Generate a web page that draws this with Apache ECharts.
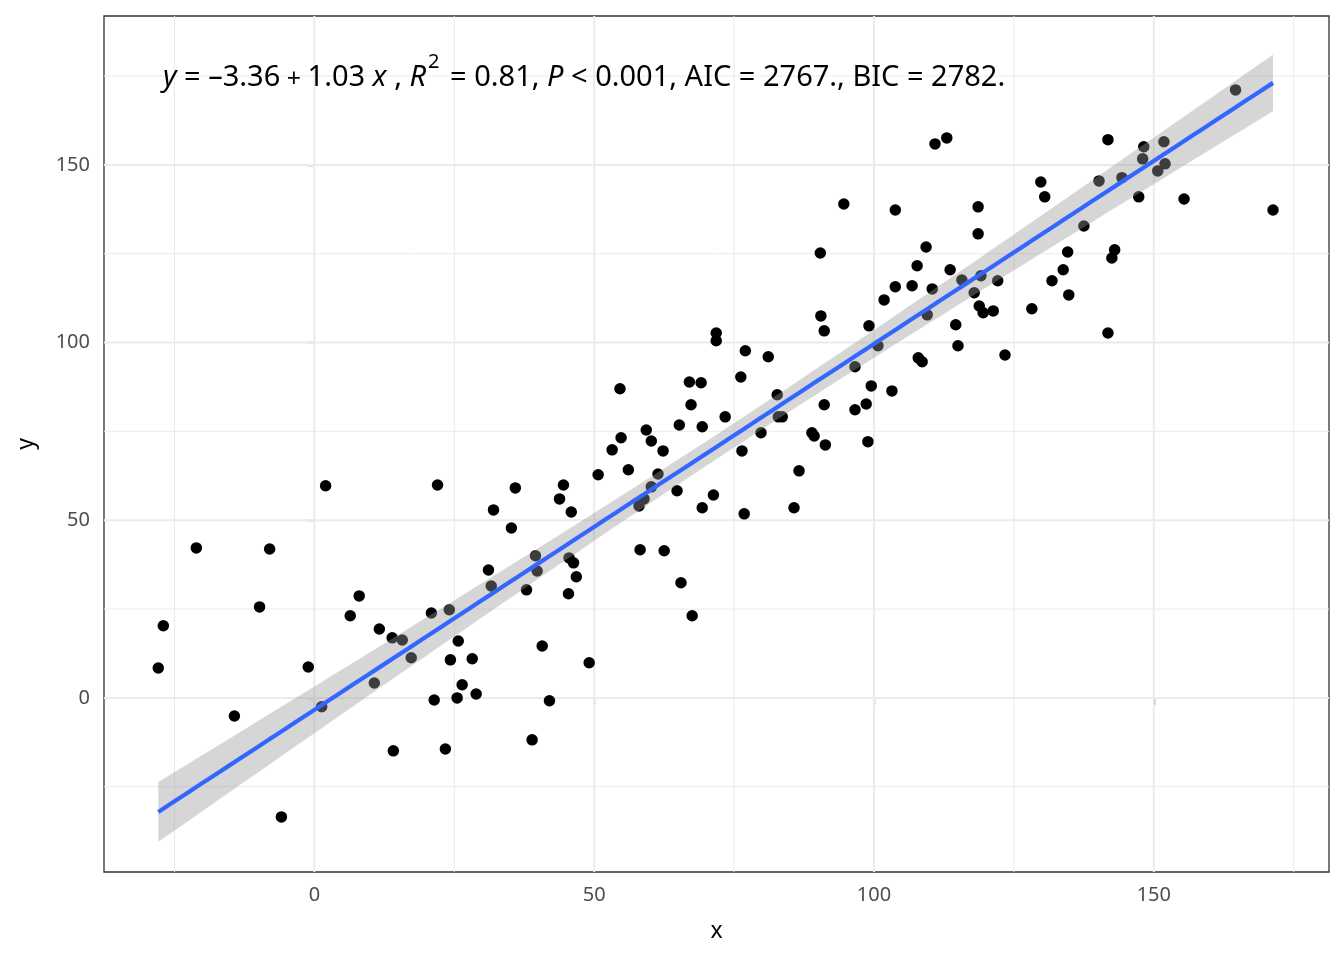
<!DOCTYPE html>
<html>
<head>
<meta charset="utf-8">
<script src="https://cdn.jsdelivr.net/npm/echarts@6/dist/echarts.min.js"></script>
<style>
  html, body { margin: 0; padding: 0; background: #fff; }
  #chart { width: 1344px; height: 960px; }
</style>
</head>
<body>
<div id="chart"></div>
<script>
// scatter data
const xValues = [-27.9,-27.0,-21.1,-14.3,-9.8,-8.0,-5.9,-1.1,1.3,2.0,6.4,8.0,10.7,11.6,13.9,14.1,15.7,17.3,20.9,21.4,
  22.0,23.4,24.1,24.3,25.7,25.5,26.4,28.2,28.9,31.1,31.6,32.0,35.2,35.9,37.9,38.9,39.5,39.8,40.7,42.0,
  43.8,44.5,45.4,45.5,45.9,46.3,46.8,49.1,50.7,53.2,54.6,54.8,56.1,58.0,58.2,58.9,59.3,60.2,60.2,61.4,
  62.3,62.5,64.8,65.2,65.5,67.0,67.3,67.5,69.1,69.3,69.3,71.3,71.8,71.8,73.4,76.2,76.4,76.8,77.0,79.8,
  81.1,82.7,82.9,83.6,85.7,86.6,88.9,89.3,90.4,90.5,91.1,91.1,91.3,94.6,96.6,96.6,98.6,98.9,99.1,99.5,
  100.7,101.8,103.2,103.8,103.8,106.8,107.7,107.9,108.6,109.3,109.5,110.4,110.9,113.0,113.6,114.6,115.0,115.7,117.9,118.6,
  118.6,118.8,119.1,119.5,121.3,122.1,123.4,128.2,129.8,130.5,131.8,133.8,134.6,134.8,137.5,140.2,141.8,141.8,142.5,143.0,
  144.3,147.3,148.0,148.2,150.7,151.8,152.0,155.4,164.6,171.3];
const yValues = [8.4,20.3,42.2,-5.1,25.6,41.9,-33.5,8.7,-2.5,59.7,23.1,28.7,4.2,19.4,16.9,-14.9,16.3,11.3,23.9,-0.6,
  59.9,-14.4,24.8,10.7,16.0,0,3.7,11.0,1.1,36.0,31.5,52.9,47.8,59.1,30.4,-11.8,40.0,35.7,14.6,-0.8,
  56.0,59.9,29.3,39.4,52.3,38.0,34.1,9.9,62.8,69.8,87.0,73.2,64.2,54.0,41.7,56.0,75.4,72.3,59.4,63.0,
  69.5,41.4,58.3,76.8,32.4,88.9,82.5,23.1,88.7,76.3,53.5,57.1,102.7,100.5,79.1,90.3,69.5,51.8,97.7,74.6,
  96.0,85.3,79.1,79.1,53.5,63.9,74.6,73.7,125.2,107.5,103.3,82.5,71.2,139.0,93.2,81.1,82.7,72.1,104.7,87.8,
  99.1,112.0,86.4,137.3,115.7,116.0,121.6,95.7,94.6,126.9,107.8,115.1,155.9,157.6,120.5,105.0,99.1,117.6,114.0,138.2,
  130.6,110.3,118.8,108.4,108.9,117.4,96.5,109.5,145.2,141.0,117.4,120.5,125.5,113.4,132.8,145.5,157.1,102.7,123.8,126.1,
  146.4,141.0,151.7,155.1,148.3,156.5,150.3,140.4,171.1,137.3];

// coefficients printed in the label
const fitIntercept = -3.36;
const fitSlope = 1.03;

const xTicks = [0, 50, 100, 150];
const yTicks = [0, 50, 100, 150];
const xMinor = [-25, 25, 75, 125, 175];
const yMinor = [-25, 25, 75, 125, 175];

const X_MIN = -37.6, X_MAX = 181.3;
const Y_MIN = -49, Y_MAX = 191.9;

// 95% confidence band of the mean around the printed line
const n = xValues.length;
const xBar = xValues.reduce((a, b) => a + b, 0) / n;
let sxx = 0, sse = 0;
for (let i = 0; i < n; i++) {
    sxx += (xValues[i] - xBar) ** 2;
    sse += (yValues[i] - fitIntercept - fitSlope * xValues[i]) ** 2;
}
const sigma = Math.sqrt(sse / (n - 2));
const tCrit = 1.976;

const xLo = Math.min(...xValues);
const xHi = Math.max(...xValues);
const fitLine = [];
const bandUpper = [];
const bandLower = [];
for (let k = 0; k <= 80; k++) {
    const x = xLo + (xHi - xLo) * k / 80;
    const yHat = fitIntercept + fitSlope * x;
    const se = sigma * Math.sqrt(1 / n + (x - xBar) ** 2 / sxx);
    fitLine.push([x, yHat]);
    bandUpper.push([x, yHat + tCrit * se]);
    bandLower.push([x, yHat - tCrit * se]);
}

// grid lines: [value, 0 = vertical / 1 = horizontal, width]
const gridData = [
    ...xMinor.map(v => [v, 0, 1]),
    ...yMinor.map(v => [v, 1, 1]),
    ...xTicks.map(v => [v, 0, 2]),
    ...yTicks.map(v => [v, 1, 2])
];

const FONT = 'Noto Sans';
const chart = echarts.init(document.getElementById('chart'));

const option = {
    animation: false,
    backgroundColor: '#fff',
    textStyle: { fontFamily: FONT },
    grid: {
        left: 104, right: 15, top: 16, bottom: 88,
        show: true, borderColor: '#333333', borderWidth: 1.3, backgroundColor: 'transparent'
    },
    xAxis: {
        type: 'value', min: X_MIN, max: X_MAX,
        name: 'x', nameLocation: 'middle', nameGap: 48,
        nameTextStyle: { fontSize: 23, color: '#000', fontFamily: FONT },
        axisLine: { show: false },
        axisTick: { show: true, customValues: xTicks, length: 7, lineStyle: { color: '#333333', width: 1.3 } },
        axisLabel: { customValues: xTicks, color: '#4D4D4D', fontSize: 20, margin: 13, fontFamily: FONT },
        splitLine: { show: false }
    },
    yAxis: {
        type: 'value', min: Y_MIN, max: Y_MAX,
        name: 'y', nameLocation: 'middle', nameGap: 66,
        nameTextStyle: { fontSize: 23, color: '#000', fontFamily: FONT },
        axisLine: { show: false },
        axisTick: { show: true, customValues: yTicks, length: 7, lineStyle: { color: '#333333', width: 1.3 } },
        axisLabel: { customValues: yTicks, color: '#4D4D4D', fontSize: 20, margin: 14, fontFamily: FONT },
        splitLine: { show: false }
    },
    graphic: [{
        type: 'text',
        left: 163, top: 52,
        z: 100,
        style: {
            text: '{i|y}{n| = –3.36}{s| + }{n|1.03 }{i|x}{n| , }{i|R}{sup|2}{n| = 0.81, }{i|P}{n| < 0.001, AIC = 2767., BIC = 2782.}',
            rich: {
                n: { fontSize: 29, fontFamily: FONT, color: '#000', lineHeight: 40, verticalAlign: 'bottom' },
                s: { fontSize: 25, fontFamily: FONT, color: '#000', lineHeight: 40, verticalAlign: 'bottom' },
                i: { fontSize: 29, fontFamily: FONT, fontStyle: 'italic', color: '#000', lineHeight: 40, verticalAlign: 'bottom' },
                sup: { fontSize: 20, fontFamily: FONT, color: '#000', lineHeight: 40, verticalAlign: 'top', padding: [0, 3, 0, 2] }
            }
        }
    }],
    series: [
        {
            // panel grid lines
            type: 'custom',
            data: gridData,
            z: 1,
            silent: true,
            renderItem: (params, api) => {
                const v = api.value(0);
                const horizontal = api.value(1) === 1;
                const p1 = horizontal ? api.coord([X_MIN, v]) : api.coord([v, Y_MIN]);
                const p2 = horizontal ? api.coord([X_MAX, v]) : api.coord([v, Y_MAX]);
                return {
                    type: 'line',
                    shape: { x1: p1[0], y1: p1[1], x2: p2[0], y2: p2[1] },
                    style: { stroke: '#EBEBEB', lineWidth: api.value(2) }
                };
            }
        },
        {
            type: 'scatter',
            data: xValues.map((x, i) => [x, yValues[i]]),
            symbolSize: 11.5,
            itemStyle: { color: '#000', opacity: 1 },
            z: 2
        },
        {
            // confidence band
            type: 'custom',
            data: [[0, 0]],
            z: 3,
            silent: true,
            renderItem: (params, api) => {
                const pts = bandUpper.map(p => api.coord(p))
                    .concat(bandLower.slice().reverse().map(p => api.coord(p)));
                return {
                    type: 'polygon',
                    shape: { points: pts },
                    style: { fill: 'rgba(153,153,153,0.4)' }
                };
            }
        },
        {
            type: 'line',
            data: fitLine,
            showSymbol: false,
            lineStyle: { color: '#3366FF', width: 4.2 },
            z: 4,
            silent: true
        }
    ]
};

chart.setOption(option);
</script>
</body>
</html>
